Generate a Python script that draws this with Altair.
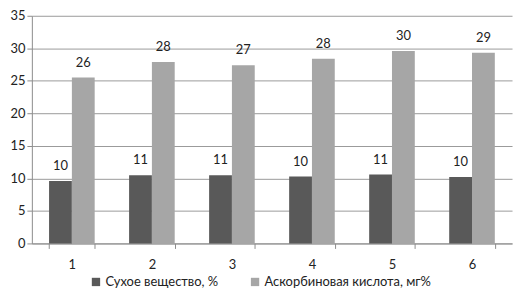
import altair as alt
import pandas as pd

categories = ["1", "2", "3", "4", "5", "6"]
series_names = ["Сухое вещество, %", "Аскорбиновая кислота, мг%"]
dry_matter = [9.6, 10.5, 10.5, 10.3, 10.6, 10.2]
ascorbic = [25.5, 27.9, 27.4, 28.4, 29.6, 29.3]
colors = ["#595959", "#a6a6a6"]

rows = []
for i, c in enumerate(categories):
    rows.append({"cat": c, "series": series_names[0], "value": dry_matter[i]})
    rows.append({"cat": c, "series": series_names[1], "value": ascorbic[i]})
df = pd.DataFrame(rows)

FONT = "Lato"

x = alt.X("cat:N", sort=categories, title=None,
          scale=alt.Scale(paddingInner=0.43, paddingOuter=0.215),
          axis=alt.Axis(labelAngle=0, labelFontSize=13, labelColor="#222",
                        labelPadding=10, tickBand="extent", tickSize=5,
                        tickColor="#8c8c8c", domainColor="#8c8c8c", grid=False))
xo = alt.XOffset("series:N", sort=series_names)
y = alt.Y("value:Q", title=None,
          scale=alt.Scale(domain=[0, 35], nice=False),
          axis=alt.Axis(values=[0, 5, 10, 15, 20, 25, 30, 35], labelFontSize=13,
                        labelColor="#222", labelPadding=2, tickSize=5,
                        tickColor="#8c8c8c", domainColor="#8c8c8c",
                        gridColor="#9a9a9a", gridWidth=1))

bars = alt.Chart(df).mark_bar().encode(
    x=x, xOffset=xo, y=y,
    color=alt.Color("series:N", sort=series_names,
                    scale=alt.Scale(domain=series_names, range=colors),
                    legend=alt.Legend(title=None, orient="none", direction="horizontal",
                                      legendX=58, legendY=261, symbolType="square",
                                      symbolSize=70, labelFontSize=13, labelColor="#222",
                                      labelLimit=400, columnPadding=30, labelOffset=3)),
)

labels = alt.Chart(df).mark_text(baseline="bottom", dy=-8, fontSize=13, color="#222", font=FONT).encode(
    x=x, xOffset=xo, y=y,
    text=alt.Text("value:Q", format=".0f"),
)

chart = (bars + labels).properties(
    width=483, height=229,
    autosize=alt.AutoSizeParams(type="none"),
    padding={"left": 24, "top": 7, "right": 4, "bottom": 45},
).configure(font=FONT).configure_view(stroke=None)

chart.save("out.html", embed_options={"renderer": "svg", "actions": False})
